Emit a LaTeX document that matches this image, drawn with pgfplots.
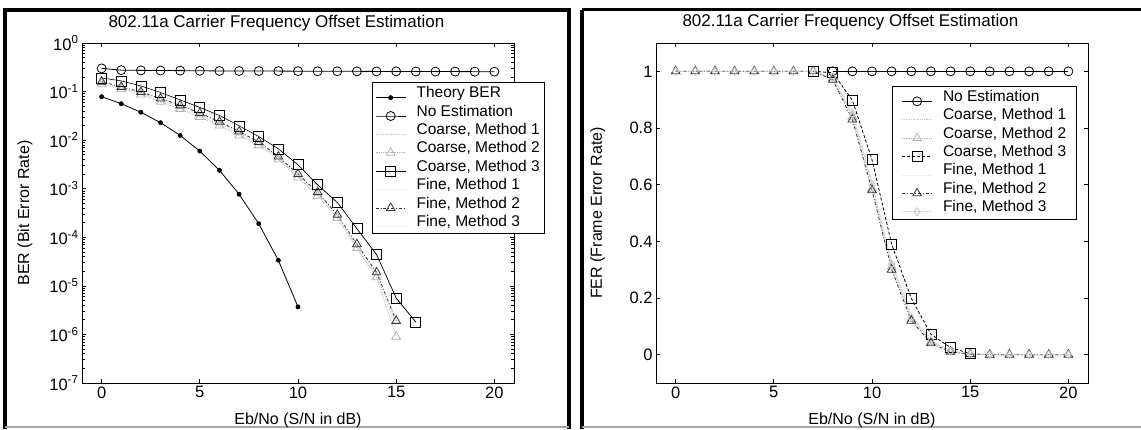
\documentclass[border=0pt]{standalone}
\usepackage{fontspec}
\setmainfont{Liberation Sans}
\usepackage{pgfplots}
\pgfplotsset{compat=1.18}
\newcommand\fsz{\fontsize{15.5}{18}\selectfont}
\newcommand\tsz{\fontsize{16.5}{19}\selectfont}
\newcommand\lsz{\fontsize{16}{19}\selectfont}
\newcommand\hsz{\fontsize{17}{20}\selectfont}

\pgfplotsset{
  matfig/.style={
    scale only axis, width=432pt, height=340pt, anchor=south west,
    xmin=-1, xmax=21, xtick={0,5,10,15,20},
    axis line style={line width=0.9pt}, tick style={line width=0.7pt, black},
    /pgf/number format/assume math mode=true,
    ticklabel style={font=\tsz}, label style={font=\lsz}, title style={font=\hsz},
    xlabel={Eb/No (S/N in dB)},
    xlabel style={at={(axis description cs:0.5,0)}, anchor=base, yshift=-41pt},
    legend style={font=\fsz, anchor=north west, draw=black, line width=0.8pt,
      row sep=0pt, inner ysep=2pt,
      nodes={inner sep=1.5pt, text height=11.6pt, text depth=3.8pt, anchor=base west}},
    legend cell align=left,
    legend image code/.code={\draw[mark repeat=2,mark phase=2,#1] plot coordinates {(0pt,0pt) (15pt,0pt) (30pt,0pt)};},
    every axis plot/.append style={line width=0.8pt},
  },
  invis/.style={gray!12, line width=0.6pt},
}

\begin{document}
\begin{tikzpicture}[x=1pt,y=1pt]
\useasboundingbox (0,0) rectangle (1141,429);
% screenshot frames
\draw[line width=4pt] (5,0) -- (5,419) -- (569,419) -- (569,0);
\draw[line width=4pt] (582,0) -- (582,419);
\draw[line width=3pt] (582,419) -- (1141,419);
\draw[gray!70, line width=1.5pt] (5,2) -- (569,2);
\draw[gray!70, line width=1.5pt] (582,2) -- (1141,2);

% ---------- BER ----------
\begin{axis}[matfig, at={(82pt,46pt)},
  ymode=log, ymin=1e-7, ymax=1,
  ytick={1e-7,1e-6,1e-5,1e-4,1e-3,1e-2,1e-1,1},
  yticklabels={10\textsuperscript{-7},10\textsuperscript{-6},10\textsuperscript{-5},10\textsuperscript{-4},10\textsuperscript{-3},10\textsuperscript{-2},10\textsuperscript{-1},10\textsuperscript{0}},
  title={802.11a Carrier Frequency Offset Estimation},
  title style={at={(axis description cs:0.45,1)}, anchor=base, yshift=10pt},
  ylabel={BER (Bit Error Rate)},
  ylabel style={at={(axis description cs:-0.132,0.5)}, anchor=center},
  legend style={at={(axis description cs:0.671,0.885)}, inner xsep=3pt, column sep=9pt},
]
\addplot[black, mark=*, mark size=2pt] coordinates {
(0,0.0786)(1,0.0563)(2,0.0375)(3,0.0229)(4,0.0125)(5,0.00595)(6,0.00239)(7,7.7e-4)(8,1.9e-4)(9,3.36e-5)(10,3.7e-6)};
\addplot[black, mark=o, mark size=4.5pt] coordinates {
(0,0.30)(1,0.276)(2,0.273)(3,0.271)(4,0.270)(5,0.268)(6,0.266)(7,0.265)(8,0.265)(9,0.264)(10,0.263)
(11,0.262)(12,0.262)(13,0.261)(14,0.260)(15,0.260)(16,0.259)(17,0.258)(18,0.258)(19,0.257)(20,0.257)};
\addplot[gray!45, densely dotted] coordinates {
(0,0.155)(1,0.118)(2,0.092)(3,0.067)(4,0.048)(5,0.033)(6,0.022)(7,0.0135)(8,0.0085)(9,0.0043)(10,0.0018)
(11,7.8e-4)(12,2.7e-4)(13,6.5e-5)(14,1.7e-5)(15,1.4e-6)};
\addplot[gray!60, densely dotted, mark=triangle, mark size=5pt, mark options={solid}] coordinates {
(0,0.145)(1,0.112)(2,0.087)(3,0.062)(4,0.044)(5,0.030)(6,0.020)(7,0.0125)(8,0.0078)(9,0.0040)(10,0.0017)
(11,7.2e-4)(12,2.5e-4)(13,6.0e-5)(14,1.5e-5)(15,9e-7)};
\addplot[black, mark=square, mark size=5pt] coordinates {
(0,0.19)(1,0.165)(2,0.13)(3,0.095)(4,0.067)(5,0.047)(6,0.032)(7,0.0196)(8,0.0118)(9,0.0066)(10,0.0031)
(11,0.0012)(12,5.2e-4)(13,1.5e-4)(14,4.4e-5)(15,5.6e-6)(16,1.8e-6)};
\addplot[invis] coordinates {
(0,0.158)(1,0.122)(2,0.095)(3,0.070)(4,0.050)(5,0.035)(6,0.023)(7,0.0145)(8,0.0090)(9,0.0045)(10,0.0019)
(11,8.2e-4)(12,2.8e-4)(13,7.0e-5)(14,1.8e-5)(15,1.7e-6)};
\addplot[black!80, dashdotted, mark=triangle, mark size=5pt, mark options={solid}] coordinates {
(0,0.160)(1,0.125)(2,0.098)(3,0.072)(4,0.052)(5,0.036)(6,0.024)(7,0.015)(8,0.0092)(9,0.0046)(10,0.0020)
(11,8.5e-4)(12,2.9e-4)(13,7.2e-5)(14,1.9e-5)(15,1.9e-6)};
\addplot[invis] coordinates {
(0,0.185)(1,0.160)(2,0.126)(3,0.092)(4,0.065)(5,0.045)(6,0.031)(7,0.019)(8,0.0114)(9,0.0063)(10,0.0029)
(11,0.0011)(12,4.9e-4)(13,1.4e-4)(14,4.0e-5)(15,5.0e-6)};
\legend{Theory BER,No Estimation,{Coarse, Method 1},{Coarse, Method 2},{Coarse, Method 3},{Fine, Method 1},{Fine, Method 2},{Fine, Method 3}}
\end{axis}

% ---------- FER ----------
\begin{axis}[matfig, at={(656pt,46pt)},
  ymin=-0.1, ymax=1.1, ytick={0,0.2,0.4,0.6,0.8,1},
  title={802.11a Carrier Frequency Offset Estimation},
  title style={at={(axis description cs:0.45,1)}, anchor=base, yshift=10pt},
  ylabel={FER (Frame Error Rate)},
  ylabel style={at={(axis description cs:-0.135,0.5)}, anchor=center},
  legend style={at={(axis description cs:0.547,0.874)}, inner xsep=9pt, column sep=9pt},
]
\addplot[black, mark=o, mark size=4.5pt] coordinates {
(8,1)(9,1)(10,1)(11,1)(12,1)(13,1)(14,1)(15,1)(16,1)(17,1)(18,1)(19,1)(20,1)};
\addplot[gray!45, densely dotted] coordinates {
(0,1)(1,1)(2,1)(3,1)(4,1)(5,1)(6,1)(7,1)(8,0.98)(9,0.86)(10,0.61)(11,0.33)(12,0.14)(13,0.05)(14,0.013)(15,0.003)
(16,0)(17,0)(18,0)(19,0)(20,0)};
\addplot[gray!60, densely dotted, mark=triangle, mark size=5pt, mark options={solid}] coordinates {
(0,1)(1,1)(2,1)(3,1)(4,1)(5,1)(6,1)(7,1)(8,0.975)(9,0.84)(10,0.586)(11,0.31)(12,0.125)(13,0.045)(14,0.012)(15,0.002)
(16,0)(17,0)(18,0)(19,0)(20,0)};
\addplot[black, densely dashed, mark=square, mark size=5pt, mark options={solid}] coordinates {
(7,1)(8,0.995)(9,0.898)(10,0.688)(11,0.39)(12,0.199)(13,0.072)(14,0.025)(15,0.004)};
\addplot[invis] coordinates {
(0,1)(1,1)(2,1)(3,1)(4,1)(5,1)(6,1)(7,1)(8,0.98)(9,0.85)(10,0.60)(11,0.32)(12,0.13)(13,0.048)(14,0.012)(15,0.003)
(16,0)(17,0)(18,0)(19,0)(20,0)};
\addplot[black!80, dashdotted, mark=triangle, mark size=5pt, mark options={solid}] coordinates {
(0,1)(1,1)(2,1)(3,1)(4,1)(5,1)(6,1)(7,1)(8,0.97)(9,0.83)(10,0.58)(11,0.30)(12,0.12)(13,0.04)(14,0.01)(15,0.002)
(16,0)(17,0)(18,0)(19,0)(20,0)};
\addplot[gray!45, densely dotted, mark=diamond, mark size=4pt, mark options={solid}] coordinates {
(0,1)(1,1)(2,1)(3,1)(4,1)(5,1)(6,1)(7,1)(8,0.98)(9,0.85)(10,0.60)(11,0.32)(12,0.13)(13,0.05)(14,0.012)(15,0.003)
(16,0)(17,0)(18,0)(19,0)(20,0)};
\legend{No Estimation,{Coarse, Method 1},{Coarse, Method 2},{Coarse, Method 3},{Fine, Method 1},{Fine, Method 2},{Fine, Method 3}}
\end{axis}
\end{tikzpicture}
\end{document}
